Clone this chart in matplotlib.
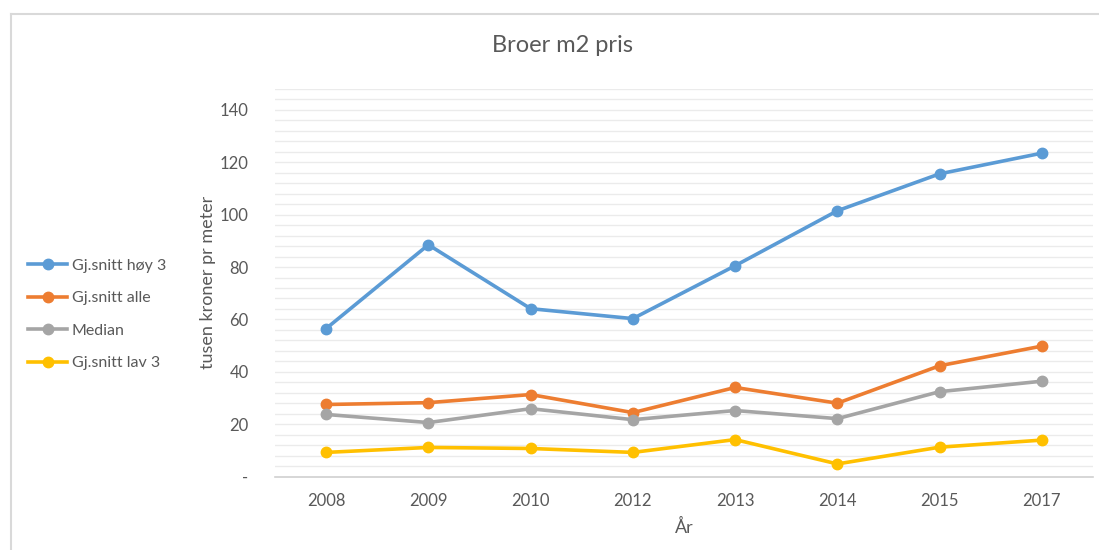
import matplotlib
matplotlib.use("Agg")
import matplotlib.pyplot as plt
from matplotlib.lines import Line2D
import numpy as np

years = ["2008", "2009", "2010", "2012", "2013", "2014", "2015", "2017"]
hoy3 = [56.5, 88.5, 64.1, 60.3, 80.5, 101.5, 115.6, 123.5]
alle = [27.5, 28.2, 31.3, 24.4, 34.0, 28.0, 42.3, 49.8]
median = [23.7, 20.6, 25.9, 21.7, 25.2, 22.1, 32.4, 36.4]
lav3 = [9.2, 11.1, 10.7, 9.2, 14.1, 4.8, 11.2, 13.9]
series_names = ["Gj.snitt høy 3", "Gj.snitt alle", "Median", "Gj.snitt lav 3"]
colors = ["#5B9BD5", "#ED7D31", "#A5A5A5", "#FFC000"]
ytick_vals = [0, 20, 40, 60, 80, 100, 120, 140]
ytick_labels = ["-", "20", "40", "60", "80", "100", "120", "140"]

plt.rcParams['font.family'] = ['Lato', 'DejaVu Sans']
W, H = 1099, 550
fig = plt.figure(figsize=(W / 100, H / 100), dpi=100)

ax = fig.add_axes([275 / W, 1 - 476.5 / H, (1093 - 275) / W, (476.5 - 89) / H])
x = np.arange(len(years))
for vals, c in zip([hoy3, alle, median, lav3], colors):
    ax.plot(x, vals, color=c, lw=2.6, marker='o', ms=7.5, solid_capstyle='round', zorder=3)

ax.set_xlim(-0.5, len(years) - 0.5)
ax.set_ylim(0, 148)
for v in np.arange(4, 149, 4):
    ax.axhline(v, color='#EBEBEB', lw=1.0, zorder=1)
ax.set_yticks(ytick_vals)
ax.set_yticklabels(ytick_labels)
ax.set_xticks(x)
ax.set_xticklabels(years)
ax.tick_params(axis='both', length=0, labelsize=12, colors='#595959')
ax.tick_params(axis='y', pad=19)
ax.tick_params(axis='x', pad=12)
for s in ['top', 'right', 'left']:
    ax.spines[s].set_visible(False)
ax.spines['bottom'].set_color('#D0D0D0')
ax.spines['bottom'].set_linewidth(1.2)
ax.set_ylabel("tusen kroner pr meter", fontsize=13, color='#595959', labelpad=3)
ax.set_xlabel("År", fontsize=13, color='#595959', labelpad=7)

fig.text(562 / W, 1 - 45 / H, "Broer m2 pris", ha='center', va='center', fontsize=17, color='#595959')

handles = [Line2D([0], [0], color=c, lw=2.6, marker='o', ms=7.5) for c in colors]
leg = fig.legend(handles, series_names, loc='upper left', bbox_to_anchor=(22 / W, 1 - 252 / H),
                 frameon=False, fontsize=11.5, labelcolor='#595959', handlelength=2.4,
                 handletextpad=0.3, labelspacing=1.15, borderaxespad=0)

# outer chart frame
fig.add_artist(Line2D([11 / W, 11 / W], [0, 1 - 14 / H], color='#D9D9D9', lw=1.5, transform=fig.transFigure))
fig.add_artist(Line2D([11 / W, 1], [1 - 14 / H, 1 - 14 / H], color='#D9D9D9', lw=1.5, transform=fig.transFigure))

fig.savefig("out.png", dpi=100)
